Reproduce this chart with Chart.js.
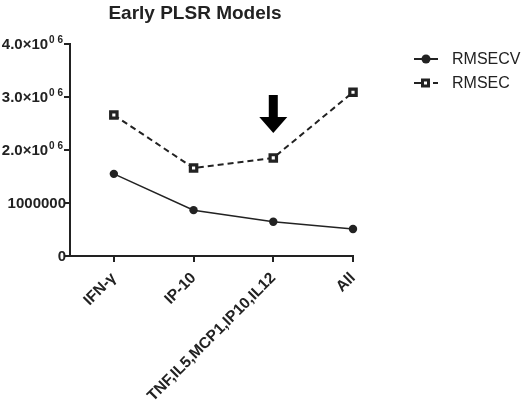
<!DOCTYPE html>
<html>
<head>
<meta charset="utf-8">
<script src="https://cdn.jsdelivr.net/npm/chart.js@4/dist/chart.umd.min.js"></script>
<style>
  html, body { margin: 0; padding: 0; background: #fff; }
  #wrap { width: 529px; height: 409px; }
</style>
</head>
<body>
<div id="wrap"><canvas id="c"></canvas></div>
<script>
// chart data
var categories = ["IFN-\u03B3", "IP-10", "TNF,IL5,MCP1,IP10,IL12", "All"];
var rmsecv = [1550000, 865000, 645000, 510000];
var rmsec = [2660000, 1660000, 1850000, 3090000];
var yTicks = [0, 1000000, 2000000, 3000000, 4000000];
// [main text, superscript]
var yTickLabels = [["0", ""], ["1000000", ""], ["2.0\u00D710", "0 6"], ["3.0\u00D710", "0 6"], ["4.0\u00D710", "0 6"]];
var titleText = "Early PLSR Models";
var arrowIndex = 2;

var FONT = "'Liberation Sans', Arial, sans-serif";

// title, legend, y labels and arrow drawn by hand
var extras = {
  id: "extras",
  afterDraw: function(chart) {
    var ctx = chart.ctx;
    var area = chart.chartArea;
    var xs = chart.scales.x, ys = chart.scales.y;
    ctx.save();
    ctx.fillStyle = "#222";
    ctx.font = "bold 19px " + FONT;
    ctx.textAlign = "center";
    ctx.textBaseline = "middle";
    ctx.fillText(titleText, area.left + 125, 14);

    // y tick labels with superscript exponent
    var right = area.left - 7;
    yTicks.forEach(function(v, i) {
      var y = ys.getPixelForValue(v);
      var main = yTickLabels[i][0], sup = yTickLabels[i][1];
      var supW = 0;
      ctx.textAlign = "right";
      if (sup) {
        ctx.font = "bold 10px " + FONT;
        supW = ctx.measureText(sup).width + 1;
        ctx.fillText(sup, right, y - 4);
      }
      ctx.font = "bold 15px " + FONT;
      ctx.fillText(main, right - supW + (sup ? 0 : 3), y + 1);
    });

    // legend
    ctx.font = "16px " + FONT;
    ctx.textAlign = "left";
    var lx = 414, ly = [59, 83];
    ctx.strokeStyle = "#222";
    ctx.lineWidth = 2;
    ctx.beginPath(); ctx.moveTo(lx, ly[0]); ctx.lineTo(lx + 24, ly[0]); ctx.stroke();
    ctx.beginPath(); ctx.arc(lx + 12, ly[0], 4.5, 0, Math.PI * 2); ctx.fillStyle = "#222"; ctx.fill();
    ctx.beginPath(); ctx.moveTo(lx, ly[1]); ctx.lineTo(lx + 7, ly[1]); ctx.stroke();
    ctx.beginPath(); ctx.moveTo(lx + 19, ly[1]); ctx.lineTo(lx + 24, ly[1]); ctx.stroke();
    ctx.fillStyle = "#fff";
    ctx.fillRect(lx + 8.5, ly[1] - 3, 6, 6);
    ctx.lineWidth = 3;
    ctx.strokeRect(lx + 8.5, ly[1] - 3, 6, 6);
    ctx.fillStyle = "#222";
    ctx.textBaseline = "middle";
    ctx.fillText("RMSECV", 452, ly[0] + 1);
    ctx.fillText("RMSEC", 452, ly[1] + 1);

    // arrow above the chosen model
    var ax = xs.getPixelForValue(arrowIndex);
    var tip = ys.getPixelForValue(rmsec[arrowIndex]) - 25;
    ctx.fillStyle = "#000";
    ctx.beginPath();
    ctx.moveTo(ax - 4.5, tip - 38);
    ctx.lineTo(ax + 4.5, tip - 38);
    ctx.lineTo(ax + 4.5, tip - 16);
    ctx.lineTo(ax + 14, tip - 16);
    ctx.lineTo(ax, tip);
    ctx.lineTo(ax - 14, tip - 16);
    ctx.lineTo(ax - 4.5, tip - 16);
    ctx.closePath();
    ctx.fill();
    ctx.restore();
  }
};

var idx = categories.map(function(_, i) { return i; });

new Chart(document.getElementById("c"), {
  type: "line",
  data: {
    datasets: [
      {
        label: "RMSECV",
        data: idx.map(function(i) { return { x: i, y: rmsecv[i] }; }),
        borderColor: "#222",
        backgroundColor: "#222",
        borderWidth: 1.5,
        pointStyle: "circle",
        pointRadius: 4.2,
        pointBorderWidth: 0,
        tension: 0,
        clip: false
      },
      {
        label: "RMSEC",
        data: idx.map(function(i) { return { x: i, y: rmsec[i] }; }),
        borderColor: "#222",
        backgroundColor: "#fff",
        borderWidth: 2,
        borderDash: [6, 4],
        pointStyle: "rect",
        pointRadius: 4.5,
        pointBorderWidth: 3.2,
        tension: 0,
        clip: false
      }
    ]
  },
  options: {
    responsive: true,
    maintainAspectRatio: false,
    animation: false,
    layout: { padding: { top: 44, right: 176, left: 0, bottom: 0 } },
    plugins: { legend: { display: false }, title: { display: false }, tooltip: { enabled: false } },
    scales: {
      x: {
        type: "linear",
        min: -0.55,
        max: 3,
        afterBuildTicks: function(s) { s.ticks = idx.map(function(i) { return { value: i }; }); },
        afterFit: function(s) { s.height = 153; },
        border: { color: "#222", width: 2 },
        grid: { drawOnChartArea: false, color: "#222", lineWidth: 2, tickLength: 6 },
        ticks: {
          minRotation: 45, maxRotation: 45, autoSkip: false, padding: 7,
          color: "#222",
          font: { family: FONT, size: 15.5, weight: "bold" },
          callback: function(v) { return categories[v]; }
        }
      },
      y: {
        min: 0,
        max: 4000000,
        afterBuildTicks: function(s) { s.ticks = yTicks.map(function(v) { return { value: v }; }); },
        afterFit: function(s) { s.width = 70; },
        border: { color: "#222", width: 2 },
        grid: { drawOnChartArea: false, color: "#222", lineWidth: 2, tickLength: 6 },
        ticks: { display: false }
      }
    }
  },
  plugins: [extras]
});
</script>
</body>
</html>
